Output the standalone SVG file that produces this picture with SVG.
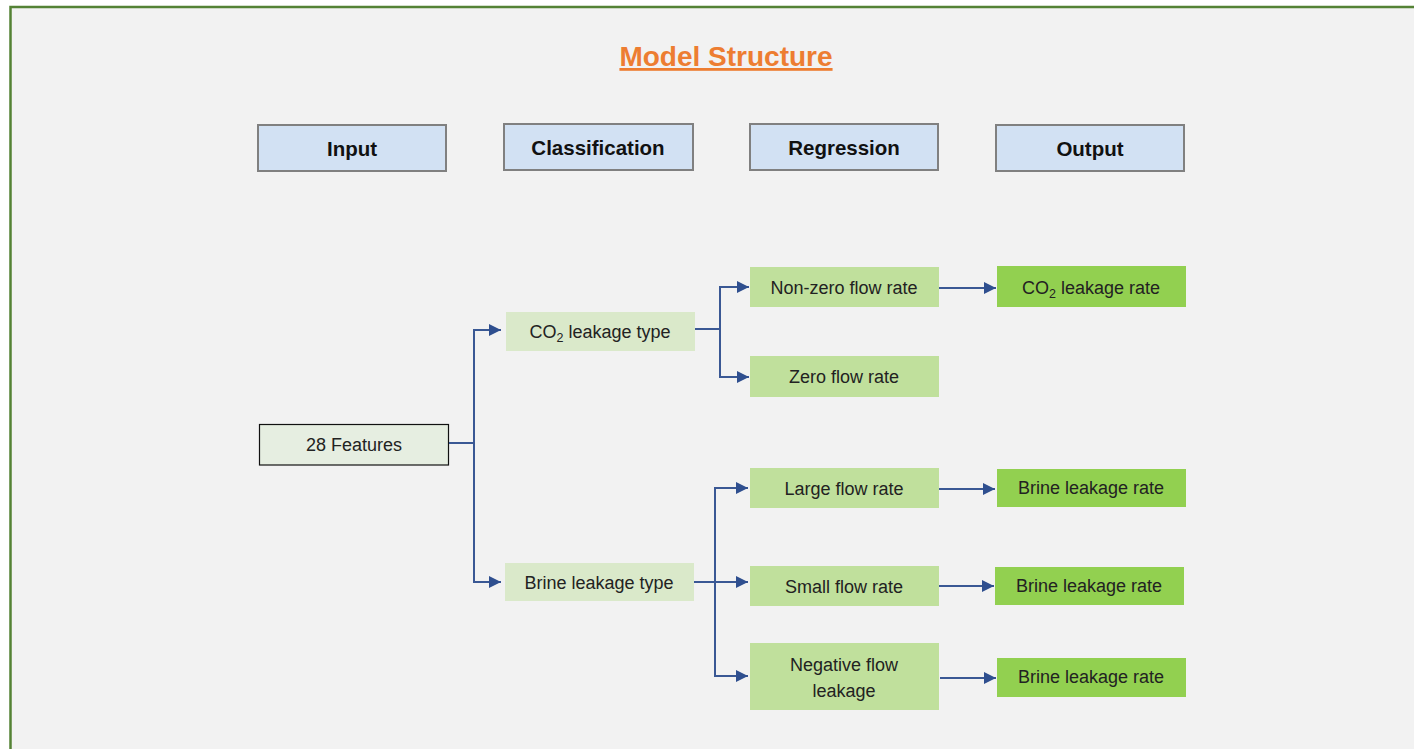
<svg xmlns="http://www.w3.org/2000/svg" width="1414" height="749" viewBox="0 0 1414 749">
<defs>
<marker id="ah" viewBox="0 0 12 12" refX="12" refY="6" markerWidth="12" markerHeight="12" markerUnits="userSpaceOnUse" orient="auto">
<path d="M0,0 L12,6 L0,12 Z" fill="#2F4F8F"/>
</marker>
<style>
.hdr rect{fill:#D2E1F3;stroke:#808080;stroke-width:2}
.hdr text{font-family:"Liberation Sans",Arial,sans-serif;font-weight:bold;font-size:20.5px;fill:#111;text-anchor:middle}
.lbl{font-family:"Liberation Sans",Arial,sans-serif;font-size:18px;fill:#222;text-anchor:middle}
.cls rect{fill:#DAE9CA}
.reg rect{fill:#C0E09C}
.out rect{fill:#92D050}
.con path{fill:none;stroke:#3A5894;stroke-width:2}
</style>
</defs>
<rect x="0" y="0" width="1414" height="749" fill="#FFFFFF"/>
<rect x="10.5" y="7" width="1420" height="760" fill="#F2F2F2" stroke="#548235" stroke-width="2.5"/>
<text x="726" y="66" font-family="Liberation Sans,Arial,sans-serif" font-weight="bold" font-size="28" fill="#ED7D31" text-anchor="middle" text-decoration="underline">Model Structure</text>

<g id="h-input" class="hdr"><rect x="258" y="125" width="188" height="46"/><text x="352" y="156">Input</text></g>
<g id="h-class" class="hdr"><rect x="504" y="124" width="189" height="46"/><text x="598" y="155">Classification</text></g>
<g id="h-reg" class="hdr"><rect x="750" y="124" width="188" height="46"/><text x="844" y="155">Regression</text></g>
<g id="h-out" class="hdr"><rect x="996" y="125" width="188" height="46"/><text x="1090" y="156">Output</text></g>

<g id="features"><rect x="259.5" y="424.5" width="189" height="40.5" fill="#E6EEE1" stroke="#111" stroke-width="1.2"/><text class="lbl" x="354" y="451">28 Features</text></g>

<g id="co2-type" class="cls"><rect x="506" y="312" width="189" height="39"/><text class="lbl" x="600" y="338">CO<tspan font-size="12.5" dy="4">2</tspan><tspan dy="-4"> leakage type</tspan></text></g>
<g id="brine-type" class="cls"><rect x="505" y="563" width="189" height="38"/><text class="lbl" x="599" y="589">Brine leakage type</text></g>

<g id="nonzero" class="reg"><rect x="750" y="267" width="189" height="40"/><text class="lbl" x="844" y="294">Non-zero flow rate</text></g>
<g id="zero" class="reg"><rect x="750" y="356" width="189" height="41"/><text class="lbl" x="844" y="383">Zero flow rate</text></g>
<g id="large" class="reg"><rect x="750" y="468" width="189" height="40"/><text class="lbl" x="844" y="495">Large flow rate</text></g>
<g id="small" class="reg"><rect x="750" y="566" width="189" height="40"/><text class="lbl" x="844" y="593">Small flow rate</text></g>
<g id="negative" class="reg"><rect x="750" y="643" width="189" height="67"/><text class="lbl" x="844" y="671">Negative flow</text><text class="lbl" x="844" y="697">leakage</text></g>

<g id="co2-rate" class="out"><rect x="997" y="266" width="189" height="41"/><text class="lbl" x="1091" y="294">CO<tspan font-size="12.5" dy="4">2</tspan><tspan dy="-4"> leakage rate</tspan></text></g>
<g id="brine-rate1" class="out"><rect x="997" y="469" width="189" height="38"/><text class="lbl" x="1091" y="494">Brine leakage rate</text></g>
<g id="brine-rate2" class="out"><rect x="995" y="567" width="189" height="38"/><text class="lbl" x="1089" y="592">Brine leakage rate</text></g>
<g id="brine-rate3" class="out"><rect x="997" y="658" width="189" height="39"/><text class="lbl" x="1091" y="683">Brine leakage rate</text></g>

<g id="connectors" class="con">
<path d="M449,443 H474"/>
<path d="M474,443 V330 H501" marker-end="url(#ah)"/>
<path d="M474,443 V582 H501" marker-end="url(#ah)"/>
<path d="M695,329 H720"/>
<path d="M720,329 V287 H749" marker-end="url(#ah)"/>
<path d="M720,329 V377 H749" marker-end="url(#ah)"/>
<path d="M939,288 H996" marker-end="url(#ah)"/>
<path d="M694,582 H748" marker-end="url(#ah)"/>
<path d="M715,582 V488 H748" marker-end="url(#ah)"/>
<path d="M715,582 V676 H748" marker-end="url(#ah)"/>
<path d="M939,489 H995" marker-end="url(#ah)"/>
<path d="M939,586 H994" marker-end="url(#ah)"/>
<path d="M940,678 H996" marker-end="url(#ah)"/>
</g>
</svg>
